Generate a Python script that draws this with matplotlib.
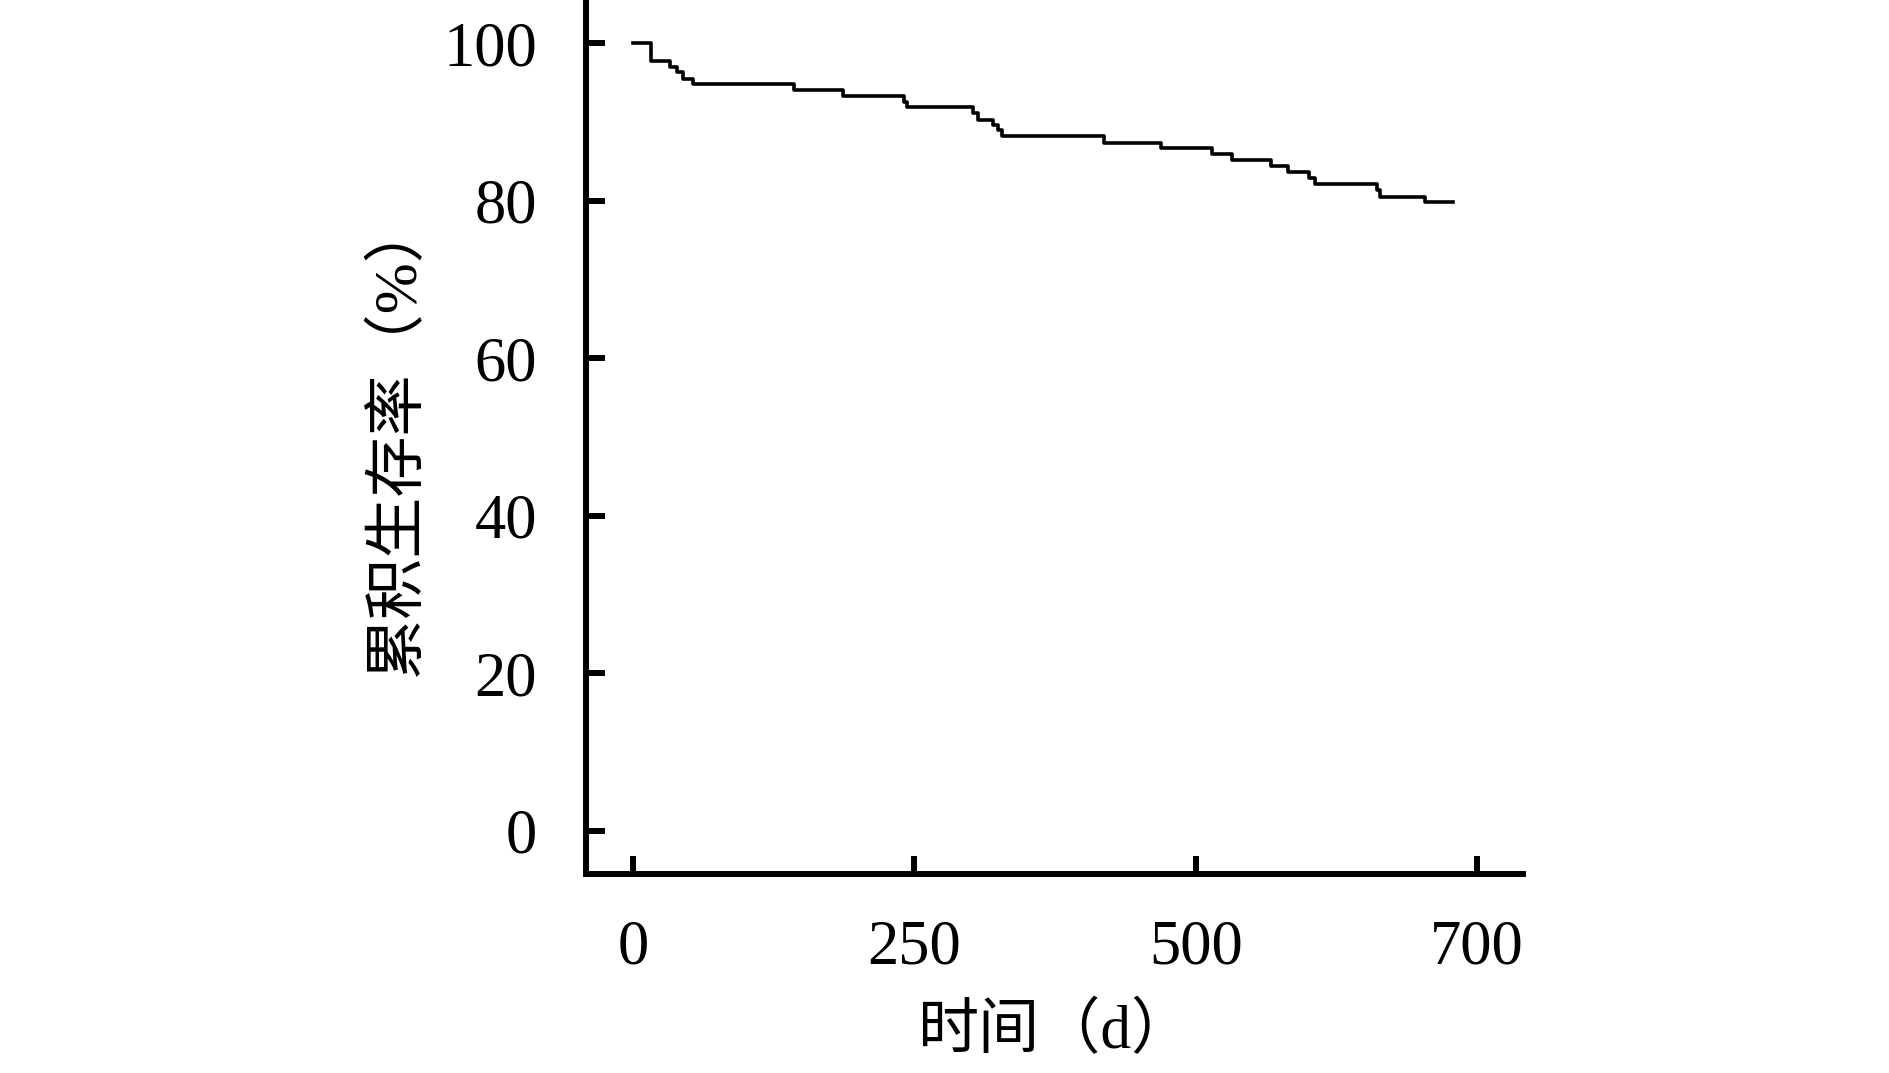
import matplotlib
matplotlib.use("Agg")
import matplotlib.pyplot as plt

# Kaplan-Meier style cumulative survival (days, %)
event_days = [0, 15.7, 32.6, 38.8, 44.2, 53.1, 142.8, 186.4, 240.6, 243.3,
              302.0, 306.4, 319.8, 324.0, 327.7, 418.4, 469.0, 514.6, 532.4,
              567.0, 582.0, 600.8, 606.0, 661.2, 663.9, 703.9, 728.8]
survival = [100.0, 97.8, 97.0, 96.3, 95.5, 94.8, 94.1, 93.3, 92.6, 91.9,
            91.1, 90.3, 89.6, 89.0, 88.2, 87.4, 86.7, 86.0, 85.2,
            84.4, 83.7, 82.9, 82.1, 81.4, 80.5, 79.8, 79.8]

x_ticks = [0, 250, 500, 750]
x_tick_labels = ["0", "250", "500", "700"]
y_ticks = [0, 20, 40, 60, 80, 100]
y_tick_labels = ["0", "20", "40", "60", "80", "100"]

x_label = "时间（d）"
y_label = "累积生存率（%）"

W, H = 1890, 1073
fig = plt.figure(figsize=(W / 100, H / 100), dpi=100)
left = 585.7 / W
right = 1523 / W
bottom = 1 - 874 / H
ax = fig.add_axes([left, bottom, right - left, 1.0 - bottom])

ax.plot(event_days, survival, drawstyle="steps-post", color="black", lw=2.6)

ax.set_xlim(-42.3, 791)
ax.set_ylim(-5.5, 105.5)

for s in ["top", "right"]:
    ax.spines[s].set_visible(False)
for s in ["left", "bottom"]:
    ax.spines[s].set_linewidth(4.3)
    ax.spines[s].set_capstyle("projecting")

num_font = ["Liberation Serif", "Noto Sans CJK SC"]
ax.set_xticks(x_ticks)
ax.set_xticklabels(x_tick_labels, family=num_font, fontsize=45)
ax.set_yticks(y_ticks)
ax.set_yticklabels(y_tick_labels, family=num_font, fontsize=45)
ax.tick_params(axis="x", direction="in", length=13.2, width=4.3, pad=33)
ax.tick_params(axis="y", direction="in", length=13.7, width=4.3, pad=35)

ax.set_xlabel(x_label, family=["Liberation Serif", "Noto Sans CJK SC"],
              fontsize=44, labelpad=18)
ax.set_ylabel(y_label, family=["Liberation Serif", "Noto Sans CJK SC"],
              fontsize=44, labelpad=12)

fig.savefig("out.png", dpi=100)
